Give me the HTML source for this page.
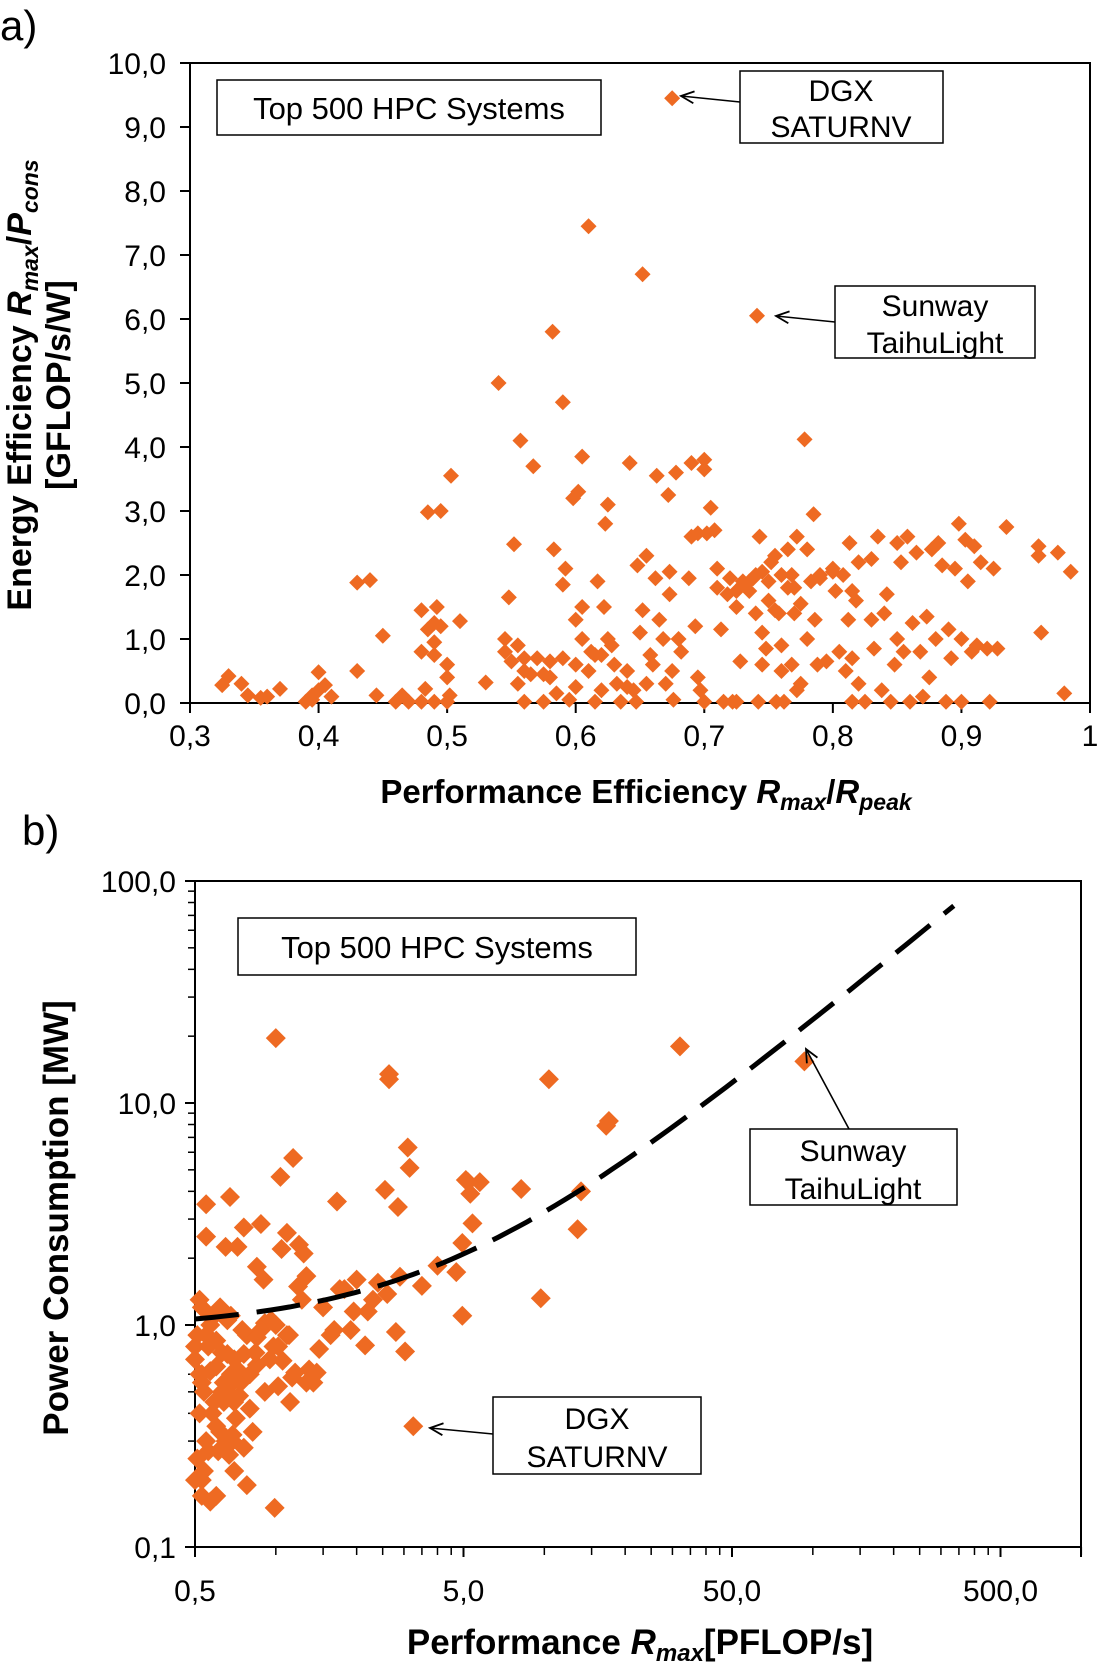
<!DOCTYPE html>
<html><head><meta charset="utf-8"><style>
body{margin:0;background:#fff}
svg{display:block;font-family:"Liberation Sans",Arial,sans-serif}
</style></head><body>
<svg id="svg" width="1104" height="1675" viewBox="0 0 1104 1675" xmlns="http://www.w3.org/2000/svg">
<text x="0" y="40" font-size="42">a)</text>
<text x="22" y="845" font-size="42">b)</text>
<g id="ga"></g>
<g id="gb"></g>
<!-- chart a titles -->
<text transform="translate(31,385) rotate(-90)" text-anchor="middle" font-size="34" font-weight="bold">Energy Efficiency <tspan font-style="italic">R</tspan><tspan font-style="italic" font-size="23" dy="7">max</tspan><tspan dy="-7">/</tspan><tspan font-style="italic">P</tspan><tspan font-style="italic" font-size="23" dy="7">cons</tspan></text>
<text transform="translate(70,385) rotate(-90)" text-anchor="middle" font-size="34" font-weight="bold">[GFLOP/s/W]</text>
<text x="646" y="803" text-anchor="middle" font-size="33" font-weight="bold">Performance Efficiency <tspan font-style="italic">R</tspan><tspan font-style="italic" font-size="23" dy="7">max</tspan><tspan dy="-7">/</tspan><tspan font-style="italic">R</tspan><tspan font-style="italic" font-size="23" dy="7">peak</tspan></text>
<!-- chart b titles -->
<text transform="translate(68,1218) rotate(-90)" text-anchor="middle" font-size="35" font-weight="bold">Power Consumption [MW]</text>
<text x="640" y="1654" text-anchor="middle" font-size="35" font-weight="bold">Performance <tspan font-style="italic">R</tspan><tspan font-style="italic" font-size="24" dy="7">max</tspan><tspan dy="-7">[PFLOP/s]</tspan></text>
<defs><marker id="ah" markerWidth="16" markerHeight="14" refX="14" refY="7" orient="auto" markerUnits="userSpaceOnUse"><path d="M1,1 L14,7 L1,13" fill="none" stroke="#000" stroke-width="1.8"/></marker></defs>
<!-- annotations a -->
<rect x="217" y="80" width="384" height="55" fill="#fff" stroke="#000" stroke-width="1.5"/>
<text x="409" y="119" text-anchor="middle" font-size="31">Top 500 HPC Systems</text>
<rect x="740" y="71" width="203" height="72" fill="#fff" stroke="#000" stroke-width="1.5"/>
<text x="841" y="101" text-anchor="middle" font-size="30"><tspan x="841">DGX</tspan><tspan x="841" dy="36">SATURNV</tspan></text>
<line x1="740" y1="102" x2="681" y2="96" stroke="#000" stroke-width="1.6" marker-end="url(#ah)"/>
<rect x="835" y="286" width="200" height="72" fill="#fff" stroke="#000" stroke-width="1.5"/>
<text x="935" y="316" text-anchor="middle" font-size="30"><tspan x="935">Sunway</tspan><tspan x="935" dy="37">TaihuLight</tspan></text>
<line x1="835" y1="322" x2="776" y2="316" stroke="#000" stroke-width="1.6" marker-end="url(#ah)"/>
<!-- annotations b -->
<rect x="238" y="918" width="398" height="57" fill="#fff" stroke="#000" stroke-width="1.5"/>
<text x="437" y="958" text-anchor="middle" font-size="31">Top 500 HPC Systems</text>
<rect x="750" y="1129" width="207" height="76" fill="#fff" stroke="#000" stroke-width="1.5"/>
<text x="853" y="1161" text-anchor="middle" font-size="30"><tspan x="853">Sunway</tspan><tspan x="853" dy="38">TaihuLight</tspan></text>
<line x1="849" y1="1129" x2="806" y2="1049" stroke="#000" stroke-width="1.6" marker-end="url(#ah)"/>
<rect x="493" y="1397" width="208" height="77" fill="#fff" stroke="#000" stroke-width="1.5"/>
<text x="597" y="1429" text-anchor="middle" font-size="30"><tspan x="597">DGX</tspan><tspan x="597" dy="38">SATURNV</tspan></text>
<line x1="493" y1="1434" x2="430" y2="1428" stroke="#000" stroke-width="1.6" marker-end="url(#ah)"/>
</svg>
<script>
const aX=[0.325,0.33,0.34,0.345,0.355,0.36,0.37,0.39,0.395,0.4,0.4,0.405,0.41,0.395,0.43,0.43,0.44,0.445,0.45,0.46,0.465,0.47,0.48,0.483,0.485,0.48,0.485,0.49,0.49,0.48,0.49,0.492,0.495,0.495,0.5,0.5,0.502,0.5,0.503,0.51,0.49,
0.53,0.54,0.545,0.545,0.55,0.548,0.552,0.555,0.557,0.56,0.56,0.555,0.565,0.567,0.57,0.575,0.58,0.58,0.582,0.583,0.585,0.59,0.59,0.592,0.59,0.595,0.6,0.6,0.598,0.602,0.605,0.605,0.605,0.61,0.61,0.612,0.615,0.617,0.62,0.62,0.622,0.623,0.625,0.625,0.628,0.63,0.632,0.635,0.64,0.642,0.645,0.647,0.65,0.648,0.652,0.652,0.655,0.655,0.658,0.66,0.662,0.663,0.665,0.668,0.67,0.672,0.673,0.673,0.675,0.675,0.676,0.678,0.68,0.682,0.688,0.69,0.69,0.693,0.695,0.695,0.697,0.7,0.7,0.702,0.705,0.708,
0.71,0.71,0.713,0.715,0.718,0.72,0.722,0.725,0.728,0.73,0.735,0.738,0.74,0.74,0.741,0.742,0.743,0.745,0.745,0.748,0.75,0.752,0.755,0.756,0.758,0.76,0.76,0.762,0.765,0.765,0.768,0.77,0.772,0.772,0.775,0.775,0.778,0.78,0.78,0.783,0.785,0.786,0.788,0.79,0.795,0.8,0.802,0.805,0.808,0.81,0.812,0.813,0.815,0.815,0.818,0.82,0.82,0.825,0.83,0.832,0.835,0.838,0.84,0.842,0.845,0.848,0.85,0.85,0.853,0.855,0.858,0.86,0.862,0.865,0.868,0.87,0.873,0.875,0.877,0.88,0.882,0.885,0.888,0.89,0.892,0.895,0.898,0.9,0.9,0.903,0.905,0.908,0.91,0.912,0.915,0.92,0.922,0.925,0.928,0.935,0.96,0.96,0.962,0.975,0.98,0.985,
0.56,0.575,0.6,0.615,0.64,0.7,0.725,0.73,0.75,0.76,0.77,0.79,0.8,0.815,0.83,0.725,0.735,0.745,0.755,0.768];
const aY=[0.28,0.42,0.3,0.12,0.08,0.1,0.22,0.02,0.12,0.48,0.2,0.28,0.1,0.05,0.5,1.88,1.92,0.12,1.05,0.02,0.12,0.02,0.02,0.22,2.98,1.45,1.15,1.25,0.95,0.8,0.75,1.5,3.0,1.2,0.6,0.4,0.12,0.02,3.55,1.28,0.02,
0.32,5.0,1.0,0.8,0.65,1.65,2.48,0.9,4.1,0.5,0.02,0.3,0.45,3.7,0.7,0.02,0.65,0.4,5.8,2.4,0.15,0.7,4.7,2.1,1.85,0.05,1.3,0.6,3.2,3.3,1.5,1.0,3.85,0.5,7.45,0.8,0.02,1.9,0.2,0.75,1.5,2.8,3.1,1.0,0.9,0.6,0.3,0.02,0.5,3.75,0.2,0.02,1.1,2.15,6.7,1.45,2.3,0.3,0.75,0.6,1.95,3.55,1.3,1.0,0.3,3.25,2.05,1.7,9.45,0.5,0.05,3.6,1.0,0.8,1.95,3.75,2.6,1.2,0.4,2.65,0.2,3.8,3.65,2.65,3.05,2.7,
1.8,2.1,1.15,0.02,1.7,1.95,0.02,1.5,0.65,1.9,1.75,1.95,2.0,1.4,6.05,0.02,2.6,0.6,1.1,0.85,1.6,2.2,2.3,0.02,1.4,0.9,0.5,0.02,2.4,1.8,0.6,1.4,0.2,2.6,1.55,0.3,4.12,2.4,1.0,1.9,2.95,1.3,0.6,2.0,0.65,2.1,1.75,0.8,2.0,0.5,1.3,2.5,0.02,0.7,1.6,0.3,2.2,0.02,2.25,0.85,2.6,0.2,1.4,1.7,0.02,0.6,1.0,2.5,2.2,0.8,2.6,0.02,1.25,2.35,0.8,0.1,1.35,0.4,2.4,1.0,2.5,2.15,0.02,1.15,0.7,2.1,2.8,0.02,1.0,2.55,1.9,0.8,2.45,0.9,2.2,0.85,0.02,2.1,0.85,2.75,2.45,2.3,1.1,2.35,0.15,2.05,
0.7,0.45,0.25,0.75,0.25,0.02,0.02,1.85,1.9,2.0,1.8,1.95,2.05,1.75,1.3,1.75,1.9,2.05,1.45,2.0];
const aXTicks=["0,3","0,4","0,5","0,6","0,7","0,8","0,9","1"];
const aYTicks=["0,0","1,0","2,0","3,0","4,0","5,0","6,0","7,0","8,0","9,0","10,0"];

const bX=[1.0,2.64,2.64,32,10.4,17.4,17,93,3.1,3.15,1.16,1.04,0.55,0.675,1.69,2.55,2.85,5.1,5.75,8.2,5.4,13.3,13.7,9.7,4.95,3.25,0.99,0.78,0.57,0.53,3.03,2.8,2.15,4.7,3.5,4.0,4.95,1.21,1.3,0.85,0.9,1.05,0.72,0.65,0.55,0.76,0.88,1.1,1.22,1.27,1.73,1.95,2.3,2.6,2.9,1.65,1.45,1.33,1.15,1.02,1.38,1.13,0.91,0.8,0.71,0.62,0.76,0.67,0.56,0.82,0.59,0.53,0.66,0.78,0.91,0.59,0.53,0.66,0.76,0.85,0.56,0.7,1.02,0.85,1.06,1.18,1.42,
0.5,0.51,0.52,0.54,0.58,0.6,0.63,0.68,0.74,0.52,0.55,0.6,0.64,0.7,0.75,0.8,0.5,0.53,0.57,0.62,0.68,0.73,0.88,0.95,1.1,0.51,0.54,0.61,0.66,0.7,0.5,0.55,0.58,0.63,0.69,0.72,0.84,0.96,1.25,1.5,1.8,2.0,2.4,0.53,0.6,0.65,0.7,0.6,0.64,0.57,1.0,0.98,1.12,1.3,1.6,1.9,2.2,5.2,5.3,0.52,0.58,0.69];
const bY=[19.6,13.5,12.8,18,12.8,8.3,7.9,15.4,6.3,5.1,5.65,4.65,3.5,3.77,3.6,4.06,3.4,4.5,4.4,4.1,2.87,2.7,4.0,1.32,1.1,0.35,0.15,0.19,0.16,0.2,0.76,0.93,0.81,1.73,1.5,1.85,2.34,1.49,1.66,1.83,1.6,2.2,2.25,2.25,2.5,2.75,2.85,2.6,2.3,2.1,1.45,1.15,1.3,1.38,1.65,0.95,0.78,0.63,0.58,0.53,0.55,0.45,0.5,0.42,0.38,0.33,0.28,0.26,0.27,0.33,0.45,0.6,0.74,0.9,1.02,1.1,1.2,1.05,0.74,0.66,0.8,0.56,0.8,0.88,0.69,0.61,0.61,
0.7,0.9,1.3,0.5,0.85,0.65,0.75,0.6,0.55,0.4,0.3,0.35,0.45,0.7,0.95,0.6,0.2,0.55,1.0,1.2,1.1,0.48,0.95,0.7,0.9,0.25,0.22,0.27,0.5,0.22,0.8,0.9,1.1,0.5,0.3,0.63,0.75,1.05,1.3,1.2,1.45,1.6,1.55,0.17,0.17,0.3,0.45,0.85,0.55,0.62,1.0,0.8,0.9,0.55,0.9,0.95,1.15,4.4,3.9,0.6,0.4,0.32];
const bXTicks=["0,5","5,0","50,0","500,0"];
const bXTickVals=[0.5,5,50,500];
const bYTicks=["0,1","1,0","10,0","100,0"];
const bYTickVals=[0.1,1,10,100];
const trendCoef=[0.95,0.228];
const trendRange=[0.5,335];

const NS="http://www.w3.org/2000/svg";
function mk(parent,tag,attrs,name){const e=document.createElementNS(NS,tag);for(const k in attrs)e.setAttribute(k,attrs[k]);


parent.appendChild(e);return e;}
const C="#ee6a22";
function diamond(g,x,y,r,name){return mk(g,'polygon',{points:`${x},${y-r} ${x+r},${y} ${x},${y+r} ${x-r},${y}`,fill:C},name);}

// chart a
const ga=document.getElementById('ga');
const aL=190,aR=1090,aT=63,aB=703;
const ax=v=>aL+(v-0.3)/0.7*(aR-aL);
const ay=v=>aB-v/10*(aB-aT);
mk(ga,'rect',{x:aL,y:aT,width:aR-aL,height:aB-aT,fill:'none',stroke:'#000','stroke-width':2},'plot-frame-a');
aYTicks.forEach((t,i)=>{const y=ay(i);mk(ga,'line',{x1:aL-10,x2:aL,y1:y,y2:y,stroke:'#000','stroke-width':2},'y-tick-a');
const tx=mk(ga,'text',{x:166,y:y+11,'text-anchor':'end','font-size':30},'y-tick-label-a');tx.textContent=t;});
aXTicks.forEach((t,i)=>{const x=ax(0.3+i*0.1);mk(ga,'line',{x1:x,x2:x,y1:aB,y2:aB+10,stroke:'#000','stroke-width':2},'x-tick-a');
const tx=mk(ga,'text',{x:x,y:746,'text-anchor':'middle','font-size':30},'x-tick-label-a');tx.textContent=t;});
for(let i=0;i<aX.length;i++){diamond(ga,ax(aX[i]),ay(aY[i]),8,'point-a');}

// chart b
const gb=document.getElementById('gb');
const bL=195,bR=1081,bT=881,bB=1547,dec=268.5;
const bx=v=>bL+Math.log10(v/0.5)*dec;
const by=v=>bB-Math.log10(v/0.1)*(bB-bT)/3;
mk(gb,'rect',{x:bL,y:bT,width:bR-bL,height:bB-bT,fill:'none',stroke:'#000','stroke-width':2},'plot-frame-b');
for(let d=0.1;d<100;d*=10){for(let m=2;m<10;m++){const y=by(d*m);mk(gb,'line',{x1:bL-7,x2:bL,y1:y,y2:y,stroke:'#000','stroke-width':1.5},'y-minor-tick-b');}}
bYTicks.forEach((t,i)=>{const y=by(bYTickVals[i]);mk(gb,'line',{x1:bL-10,x2:bL,y1:y,y2:y,stroke:'#000','stroke-width':2},'y-tick-b');
const tx=mk(gb,'text',{x:176,y:y+11,'text-anchor':'end','font-size':30},'y-tick-label-b');tx.textContent=t;});
for(let d=0.5;d<1000;d*=10){for(let m=2;m<10;m++){const x=bx(d*m);if(x<=bR+1)mk(gb,'line',{x1:x,x2:x,y1:bB,y2:bB+8,stroke:'#000','stroke-width':1.5},'x-minor-tick-b');}}
mk(gb,'line',{x1:bR,x2:bR,y1:bB,y2:bB+10,stroke:'#000','stroke-width':2},'x-end-tick-b');
bXTicks.forEach((t,i)=>{const x=bx(bXTickVals[i]);mk(gb,'line',{x1:x,x2:x,y1:bB,y2:bB+10,stroke:'#000','stroke-width':2},'x-tick-b');
const tx=mk(gb,'text',{x:x,y:1601,'text-anchor':'middle','font-size':30},'x-tick-label-b');tx.textContent=t;});
for(let i=0;i<bX.length;i++){diamond(gb,bx(bX[i]),by(bY[i]),10,'point-b');}
let d="";const n=80;
for(let i=0;i<=n;i++){const v=trendRange[0]*Math.pow(trendRange[1]/trendRange[0],i/n);const yv=trendCoef[0]+trendCoef[1]*v;d+=(i?"L":"M")+bx(v).toFixed(1)+","+by(yv).toFixed(1);}
mk(gb,'path',{d:d,fill:'none',stroke:'#000','stroke-width':5,'stroke-dasharray':'44 18'},'trend-line-b');
</script>
</body></html>
